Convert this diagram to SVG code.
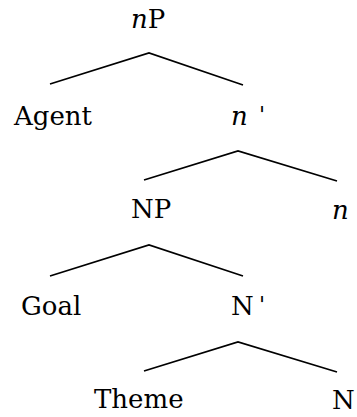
<svg xmlns="http://www.w3.org/2000/svg" width="357" height="417" viewBox="0 0 357 417">
  <style>
    text { font-family: 'DejaVu Serif', 'Liberation Serif', serif; font-size: 26px; fill: #000; }
    .it { font-style: italic; }
    .edge { fill: none; stroke: #000; stroke-width: 1.7; stroke-linejoin: miter; }
  </style>
  <rect width="357" height="417" fill="#fff"/>

  <!-- branches -->
  <g id="connectors">
    <polyline class="edge" points="50,84 149,53 243,85"/>
    <polyline class="edge" points="144,180 238,151 337,181"/>
    <polyline class="edge" points="50,276 149,245 243,276"/>
    <polyline class="edge" points="144,371 238,342 337,372"/>
  </g>

  <g id="nP"><text x="131" y="28"><tspan class="it">n</tspan>P</text></g>
  <g id="agent"><text x="14" y="125">Agent</text></g>
  <g id="nbar"><text class="it" x="231" y="125">n</text><text x="259" y="122" style="font-size:22px">'</text></g>
  <g id="NP"><text x="131" y="218">NP</text></g>
  <g id="n"><text class="it" x="332" y="219">n</text></g>
  <g id="goal"><text x="21" y="315">Goal</text></g>
  <g id="Nbar"><text x="231" y="315">N</text><text x="259" y="312" style="font-size:22px">'</text></g>
  <g id="theme"><text x="94" y="408">Theme</text></g>
  <g id="N"><text x="332" y="409">N</text></g>
</svg>
